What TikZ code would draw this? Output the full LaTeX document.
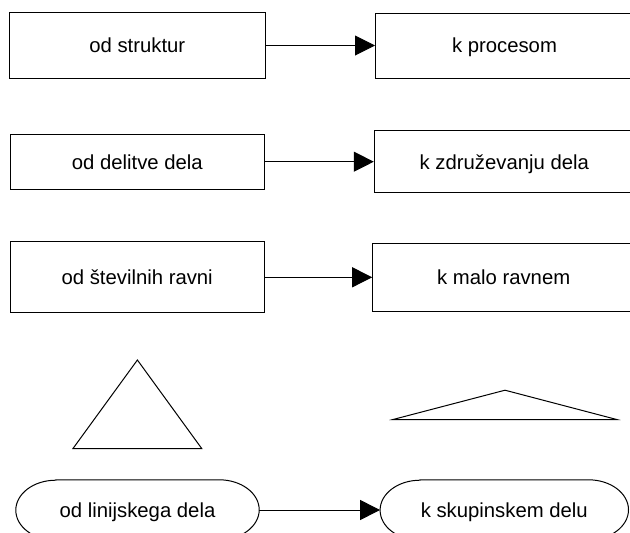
\documentclass[tikz,border=0pt]{standalone}
\usepackage{fontspec}
\setmainfont{Liberation Sans}
\usetikzlibrary{arrows.meta}

\begin{document}
\begin{tikzpicture}[x=1pt,y=-1pt,
  box/.style={draw, line width=1pt, inner sep=0pt, text height=14.8pt, text depth=0pt, font=\fontsize{20.3}{24}\selectfont},
  pill/.style={inner sep=0pt, minimum height=60pt, text height=14.8pt, text depth=0pt, font=\fontsize{20.3}{24}\selectfont},
  arr/.style={-{Triangle[length=20pt,width=20pt]}, line width=1pt}]
\useasboundingbox (0,0) rectangle (630,533);

\node[box, minimum width=256pt, minimum height=66pt] (strukt) at (137.3,45.5) {od struktur};
\node[box, minimum width=258pt, minimum height=65pt] (proc) at (504.5,45.5) {k procesom};
\draw[arr] (strukt) -- (proc);

\node[box, minimum width=254pt, minimum height=55pt] (delit) at (137.3,161.7) {od delitve dela};
\node[box, minimum width=260pt, minimum height=62pt] (zdruz) at (504.3,161.7) {k združevanju dela};
\draw[arr] (delit) -- (zdruz);

\node[box, minimum width=254pt, minimum height=71pt] (ravni) at (137.2,277.3) {od številnih ravni};
\node[box, minimum width=262pt, minimum height=68pt] (malo) at (503.7,277.3) {k malo ravnem};
\draw[arr] (ravni) -- (malo);

\draw[line width=1pt] (73,448.5) -- (137.4,360) -- (201.7,448.5) -- cycle;
\draw[line width=1pt] (393,419.5) -- (505,390.2) -- (616.7,419.5) -- cycle;

\node[pill, minimum width=243pt] (linij) at (137.5,510) {od linijskega dela};
\node[pill, minimum width=248pt] (skup) at (504.3,510) {k skupinskem delu};
\foreach \n in {linij,skup}
  \draw[line width=1pt] ([xshift=40pt]\n.north west) -- ([xshift=-40pt]\n.north east)
    arc[start angle=90, end angle=-90, x radius=40pt, y radius=30pt]
    -- ([xshift=40pt]\n.south west)
    arc[start angle=270, end angle=90, x radius=40pt, y radius=30pt] -- cycle;
\draw[arr] (linij) -- (skup);
\end{tikzpicture}
\end{document}
